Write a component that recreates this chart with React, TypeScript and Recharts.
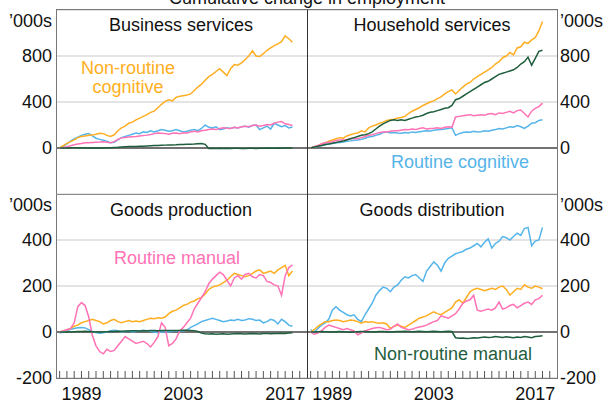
import React from "react";
import { LineChart, Line, XAxis, YAxis, CartesianGrid, ReferenceLine } from "recharts";

// half-yearly observations, 1986 to 2018
const periods = Array.from({ length: 65 }, (_, i) => 1986 + i / 2);
const yearTicks = Array.from({ length: 34 }, (_, i) => 1986 + i);
const labelYears = [1989, 2003, 2017];

const topTicks = [0, 400, 800, 1200];
const bottomTicks = [-200, 0, 200, 400, 600];

// Business services
const bsNonRoutineCognitive = [
  0, 20, 40, 55, 70, 90, 100, 105, 110, 112,
  120, 128, 125, 110, 100, 115, 150, 175, 190, 215,
  225, 245, 260, 275, 290, 310, 320, 350, 380, 405,
  420, 410, 440, 450, 455, 460, 470, 500, 530, 555,
  590, 620, 640, 665, 690, 660, 630, 690, 725, 720,
  740, 770, 800, 845, 800, 795, 820, 850, 870, 890,
  905, 925, 975, 950, 920,
];
const bsRoutineCognitive = [
  0, 15, 35, 60, 80, 95, 110, 120, 125, 105,
  85, 75, 68, 60, 45, 50, 70, 90, 100, 110,
  120, 130, 125, 140, 135, 150, 140, 150, 160, 155,
  145, 150, 160, 150, 140, 145, 155, 160, 150, 170,
  200, 180, 175, 185, 160, 165, 175, 170, 180, 175,
  185, 190, 180, 195, 200, 160, 175, 190, 165, 215,
  200, 185, 195, 175, 182,
];
const bsRoutineManual = [
  0, 5, 12, 20, 28, 35, 40, 45, 45, 48,
  50, 52, 55, 50, 45, 55, 75, 88, 92, 95,
  98, 100, 105, 108, 112, 118, 125, 130, 128, 125,
  120, 128, 130, 125, 132, 130, 140, 145, 140, 150,
  155, 160, 165, 160, 170, 175, 172, 170, 180, 175,
  185, 190, 185, 195, 200, 190, 195, 205, 200, 215,
  225, 230, 210, 205, 195,
];
const bsNonRoutineManual = [
  0, 0, 1, 2, 3, 3, 2, 1, 0, 0,
  0, 0, 1, 2, 3, 5, 6, 8, 10, 12,
  13, 14, 15, 16, 18, 20, 21, 22, 24, 25,
  26, 27, 28, 30, 31, 32, 33, 35, 38, 40,
  32, -5, -3, -4, -2, -5, -3, -4, -2, -3,
  -5, -4, -2, -3, -4, -2, -3, -1, -2, -3,
  -1, -2, 0, -1, 0,
];

// Household services
const hsNonRoutineCognitive = [
  0, 10, 20, 35, 45, 60, 70, 80, 90, 85,
  105, 115, 125, 130, 150, 140, 175, 190, 200, 215,
  225, 240, 245, 250, 260, 265, 275, 300, 320, 335,
  350, 370, 385, 400, 410, 430, 445, 470, 490, 505,
  470, 500, 530, 555, 570, 600, 620, 640, 660, 680,
  700, 730, 750, 785, 800, 830, 810, 870, 880, 920,
  910, 940, 960, 1020, 1100,
];
const hsRoutineCognitive = [
  0, 8, 15, 22, 28, 35, 40, 45, 48, 52,
  58, 62, 68, 70, 75, 85, 95, 100, 110, 120,
  135, 140, 130, 135, 130, 128, 135, 130, 140, 135,
  142, 145, 150, 148, 155, 158, 160, 165, 170, 175,
  110, 125, 135, 140, 138, 145, 140, 142, 150, 145,
  155, 160, 170, 165, 175, 185, 180, 195, 185, 170,
  190, 215, 220, 240, 245,
];
const hsRoutineManual = [
  0, 12, 22, 35, 45, 50, 55, 65, 70, 72,
  75, 80, 85, 80, 90, 100, 110, 115, 125, 135,
  140, 140, 145, 150, 150, 155, 160, 158, 165, 160,
  170, 175, 165, 170, 172, 175, 170, 180, 185, 180,
  270, 275, 280, 285, 290, 280, 285, 290, 285, 295,
  300, 290, 305, 300, 310, 320, 305, 325, 330, 300,
  270, 320, 345, 360, 390,
];
const hsNonRoutineManual = [
  0, 8, 15, 22, 30, 35, 42, 48, 55, 60,
  70, 80, 90, 100, 110, 115, 125, 140, 165, 190,
  210, 225, 240, 245, 240, 245, 240, 250, 260, 270,
  275, 285, 300, 310, 315, 325, 335, 345, 350, 370,
  420, 430, 450, 470, 490, 510, 530, 550, 570, 580,
  600, 620, 640, 650, 660, 670, 680, 700, 730, 750,
  790, 720, 780, 840, 850,
];

// Goods production
const gpNonRoutineCognitive = [
  0, 5, 10, 15, 25, 30, 40, 45, 50, 55,
  50, 45, 35, 40, 50, 55, 45, 40, 45, 50,
  45, 48, 45, 50, 55, 60, 58, 62, 60, 65,
  80, 90, 95, 105, 115, 120, 130, 135, 145, 150,
  165, 185, 195, 200, 205, 215, 225, 240, 255, 250,
  245, 240, 245, 255, 265, 270, 255, 260, 265, 255,
  270, 280, 290, 245, 265,
];
const gpRoutineCognitive = [
  -5, 0, 5, 12, 15, 18, 20, 18, 10, 2,
  -2, -5, -3, 0, 5, 8, 5, 0, 2, 5,
  0, 3, 5, 8, 6, 3, 0, -3, 0, 2,
  0, 3, 5, 2, 5, 8, 20, 28, 35, 45,
  50, 55, 60, 55, 50, 45, 48, 52, 50, 55,
  50, 52, 58, 55, 50, 52, 40, 45, 55, 50,
  35, 55, 45, 30, 25,
];
const gpRoutineManual = [
  0, 5, 10, 15, 40, 110, 128, 115, 65, -15,
  -60, -85, -95, -75, -85, -80, -60, -40, -20, -30,
  -40, -50, -45, -40, -50, -65, -45, -20, 40, 20,
  -60, -50, -30, 5, 20, 40, 60, 100, 125, 150,
  175, 210, 230, 245, 260, 250, 225, 200, 235, 245,
  230, 250, 255, 240, 235, 250, 245, 220, 215, 205,
  200, 160, 245, 280, 292,
];
const gpNonRoutineManual = [
  0, 0, 0, 0, 1, 2, 2, 3, 2, 1,
  0, 0, 0, 1, 2, 2, 3, 3, 4, 4,
  5, 5, 4, 5, 5, 6, 6, 5, 6, 6,
  7, 7, 6, 7, 8, 8, 7, 6, 2, -5,
  -8, -9, -8, -10, -9, -8, -10, -9, -8, -7,
  -8, -9, -8, -7, -8, -9, -7, -6, -8, -7,
  -6, -5, -6, -4, -3,
];

// Goods distribution
const gdNonRoutineCognitive = [
  0, 10, 25, 35, 45, 45, 50, 52, 50, 45,
  48, 52, 50, 45, 38, 45, 42, 45, 40, 38,
  40, 35, 15, 25, 30, 25, 20, 30, 40, 50,
  60, 65, 70, 80, 88, 80, 75, 85, 95, 105,
  130, 140, 125, 150, 175, 185, 190, 185, 180, 185,
  190, 185, 195, 200, 185, 160, 175, 190, 185, 205,
  195, 190, 200, 195, 188,
];
const gdRoutineCognitive = [
  10, 0, 15, 30, 40, 55, 95, 110, 95, 85,
  75, 70, 75, 55, 45, 75, 100, 125, 160, 180,
  195, 190, 175, 195, 205, 225, 240, 235, 245, 250,
  235, 220, 265, 285, 305, 290, 265, 300, 320, 330,
  340, 345, 350, 360, 365, 375, 385, 370, 390, 405,
  365, 385, 395, 415, 410, 400, 415, 430, 420, 450,
  455, 375, 395, 400, 455,
];
const gdRoutineManual = [
  0, -10, -5, 5, 20, 30, 25, 20, 15, 10,
  15, 10, 5, -12, -5, 5, 10, 15, 18, 20,
  15, 10, 12, 25, 35, 20, 15, 10, 12, 18,
  22, 25, 30, 38, 45, 50, 70, 65, 60, 70,
  80, 100, 125, 135, 140, 160, 95, 90, 95, 100,
  95, 105, 130, 100, 105, 115, 120, 105, 115, 125,
  130, 120, 140, 145, 160,
];
const gdNonRoutineManual = [
  0, 0, 1, 2, 1, 0, 0, 1, 2, 1,
  0, -1, 0, 1, 2, 2, 1, 0, 1, 2,
  2, 1, 0, 1, 2, 2, 3, 2, 1, 2,
  3, 2, 1, 2, 3, 2, 1, 2, 3, 2,
  -25, -27, -26, -28, -27, -25, -26, -24, -22, -24,
  -23, -20, -22, -24, -21, -23, -25, -22, -24, -20,
  -22, -25, -20, -18, -16,
];

const ORANGE = "#FFAE22";
const BLUE = "#55B4E9";
const PINK = "#FF72B5";
const GREEN = "#1F5E3D";
const FONT = "'Liberation Sans', Arial, sans-serif";

function rows(nrc: number[], rc: number[], rm: number[], nrm: number[]) {
  return periods.map((t, i) => ({ t, nrc: nrc[i], rc: rc[i], rm: rm[i], nrm: nrm[i] }));
}

function ValueTick(props: any) {
  const { x, y, payload, textAnchor, top } = props;
  const isTop = payload.value === top;
  return (
    <text
      x={x}
      y={isTop ? y + 11 : y}
      dy="0.36em"
      textAnchor={textAnchor}
      fontSize={18}
      fontFamily={FONT}
      fill="#111"
    >
      {isTop ? "\u2019000s" : payload.value}
    </text>
  );
}

function YearTick(props: any) {
  const { x, y, payload } = props;
  const v = payload.value;
  return (
    <g>
      <line x1={x} x2={x} y1={y - 7} y2={y} stroke="#555" />
      {labelYears.includes(v) && (
        <text x={x} y={y + 22} textAnchor="middle" fontSize={18} fontFamily={FONT} fill="#111">
          {v}
        </text>
      )}
    </g>
  );
}

function Panel({ data, side, bottom }: { data: any[]; side: "left" | "right"; bottom: boolean }) {
  const isLeft = side === "left";
  const domain = bottom ? [-200, 600] : [-400, 1200];
  const ticks = bottom ? bottomTicks : topTicks;
  return (
    <div style={{ position: "absolute", left: isLeft ? 0 : 307, top: bottom ? 194 : 0 }}>
      <LineChart
        width={isLeft ? 307 : 298}
        height={bottom ? 211 : 194}
        data={data}
        margin={{ top: bottom ? 0 : 10, right: 0, bottom: 0, left: 0 }}
      >
        <CartesianGrid vertical={false} stroke="#c9c9c9" />
        <XAxis
          dataKey="t"
          type="number"
          domain={[1985.5, 2020]}
          ticks={yearTicks}
          interval={0}
          hide={!bottom}
          height={27}
          tickSize={0}
          tickMargin={0}
          axisLine={false}
          tickLine={false}
          tick={<YearTick />}
          allowDataOverflow
        />
        <YAxis
          orientation={side}
          width={isLeft ? 56 : 48}
          domain={domain}
          ticks={ticks}
          interval={0}
          axisLine={false}
          tickLine={false}
          tickSize={0}
          tickMargin={isLeft ? 4 : 3}
          tick={<ValueTick top={domain[1]} />}
          allowDataOverflow
        />
        <ReferenceLine y={0} stroke="#000" strokeWidth={1.2} />
        <Line dataKey="rc" stroke={BLUE} strokeWidth={1.5} dot={false} isAnimationActive={false} />
        <Line dataKey="nrc" stroke={ORANGE} strokeWidth={1.5} dot={false} isAnimationActive={false} />
        <Line dataKey="rm" stroke={PINK} strokeWidth={1.5} dot={false} isAnimationActive={false} />
        <Line dataKey="nrm" stroke={GREEN} strokeWidth={1.5} dot={false} isAnimationActive={false} />
      </LineChart>
    </div>
  );
}

const txt = { fontSize: 18, fontFamily: FONT };

export default function App() {
  return (
    <div style={{ position: "absolute", left: 0, top: 0, width: 605, height: 405, background: "#fff" }}>
      <Panel data={rows(bsNonRoutineCognitive, bsRoutineCognitive, bsRoutineManual, bsNonRoutineManual)} side="left" bottom={false} />
      <Panel data={rows(hsNonRoutineCognitive, hsRoutineCognitive, hsRoutineManual, hsNonRoutineManual)} side="right" bottom={false} />
      <Panel data={rows(gpNonRoutineCognitive, gpRoutineCognitive, gpRoutineManual, gpNonRoutineManual)} side="left" bottom={true} />
      <Panel data={rows(gdNonRoutineCognitive, gdRoutineCognitive, gdRoutineManual, gdNonRoutineManual)} side="right" bottom={true} />
      <svg width={605} height={405} style={{ position: "absolute", left: 0, top: 0, pointerEvents: "none" }}>
        <text x={307} y={4} textAnchor="middle" fill="#111" {...txt}>Cumulative change in employment</text>
        <rect x={56.5} y={9.5} width={501} height={369} fill="none" stroke="#777" />
        <line x1={56} x2={557} y1={194.5} y2={194.5} stroke="#8a8a8a" />
        <line x1={307.5} x2={307.5} y1={10} y2={378} stroke="#333" />
        <text x={181} y={31} textAnchor="middle" fill="#111" {...txt}>Business services</text>
        <text x={432} y={31} textAnchor="middle" fill="#111" {...txt}>Household services</text>
        <text x={181} y={216} textAnchor="middle" fill="#111" {...txt}>Goods production</text>
        <text x={432} y={216} textAnchor="middle" fill="#111" {...txt}>Goods distribution</text>
        <text x={128} y={74} textAnchor="middle" fill={ORANGE} {...txt}>Non-routine</text>
        <text x={128} y={93} textAnchor="middle" fill={ORANGE} {...txt}>cognitive</text>
        <text x={460} y={168} textAnchor="middle" fill={BLUE} {...txt}>Routine cognitive</text>
        <text x={177} y={264} textAnchor="middle" fill={PINK} {...txt}>Routine manual</text>
        <text x={453} y={360} textAnchor="middle" fill={GREEN} {...txt}>Non-routine manual</text>
      </svg>
    </div>
  );
}
